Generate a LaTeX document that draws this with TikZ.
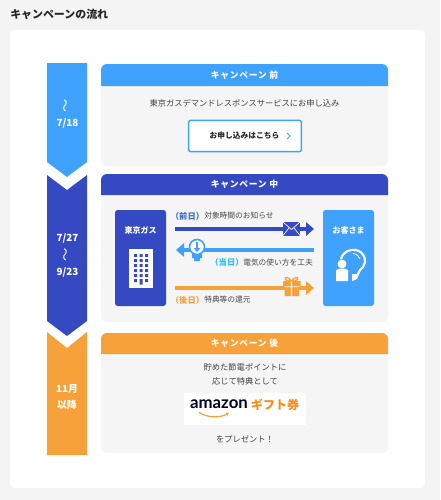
\documentclass[tikz,border=0pt]{standalone}
\usepackage{fontspec}
\usepackage{xcolor}
\setmainfont{Noto Sans CJK JP}
\newfontfamily\wide[LetterSpace=8]{Noto Sans CJK JP}
\newfontfamily\logofont{Lato}
\definecolor{sky}{HTML}{3FA2FF}
\definecolor{navy}{HTML}{354AC2}
\definecolor{amber}{HTML}{F6A13A}
\definecolor{panel}{HTML}{F5F5F5}
\definecolor{page}{HTML}{F4F4F4}
\usetikzlibrary{arrows.meta}

\begin{document}
\begin{tikzpicture}[
    x=0.75pt, y=-0.75pt,
    txt/.style={inner sep=0pt, text=black!75, font=\fontsize{6.2}{7}\selectfont},
    small/.style={inner sep=0pt, text=black!72, font=\fontsize{5.8}{7}\selectfont},
    % ── stage headings and dates ──
    headtxt/.style={inner sep=0pt, text=white, font=\fontsize{6.6}{8}\selectfont\bfseries\wide},
    datetxt/.style={inner sep=0pt, text=white, font=\fontsize{7.4}{9}\selectfont\bfseries},
    wavetxt/.style={inner sep=0pt, text=white, rotate=90, font=\fontsize{10}{11}\selectfont},
    boxtxt/.style={inner sep=0pt, text=white, font=\fontsize{6}{7}\selectfont\bfseries},
    daytxt/.style={inner sep=0pt, font=\fontsize{6.2}{8}\selectfont\bfseries},
    actor/.style={minimum width=38.25pt, minimum height=72pt, rounded corners=2pt, inner sep=0pt},
    flow/.style={line width=3pt, -{Triangle[length=6pt, width=10pt]}},
]

\fill[page] (0,0) rectangle (440,500);
\fill[white, rounded corners=3pt] (10,30) rectangle (425,488);
\node[inner sep=0pt, anchor=west, text=black!85, font=\fontsize{8.2}{10}\selectfont\bfseries] (title) at (10,14.5) {キャンペーンの流れ};

% ══════════════════════════════════════
% LEFT: date chevrons
% ══════════════════════════════════════
\fill[amber] (47,332) -- (67,348) -- (87,332) -- (87,455) -- (47,455) -- cycle;
\fill[navy] (47,175) -- (67,190) -- (87,175) -- (87,321) -- (67,336) -- (47,321) -- cycle;
\fill[sky] (47,63) -- (87,63) -- (87,162) -- (67,177) -- (47,162) -- cycle;

\node[wavetxt] (wavea) at (67,106) {〜};
\node[datetxt] (datea) at (67.5,123) {7/18};
\node[datetxt] (dateb) at (67.5,238) {7/27};
\node[wavetxt] (waveb) at (67,255) {〜};
\node[datetxt] (datec) at (67.5,272.5) {9/23};
\node[datetxt] (dated) at (67,389) {11月};
\node[datetxt] (datee) at (67,405) {以降};

% ══════════════════════════════════════
% Card 1: before
% ══════════════════════════════════════
\fill[panel, rounded corners=4.5pt] (101,64) rectangle (388,166);
\fill[sky] (101,86) {[rounded corners=4.5pt] -- (101,64) -- (388,64)} -- (388,86) -- cycle;
\node[headtxt] (heada) at (244.5,75) {キャンペーン 前};
\node[txt] (apply) at (244.5,103) {東京ガスデマンドレスポンスサービスにお申し込み};
\node[draw=sky, fill=white, line width=1.1pt, rounded corners=1.5pt, minimum width=84.5pt, minimum height=23.5pt, inner sep=0pt] (button) at (245,136) {};
\node[small, text=black!85, font=\fontsize{5.8}{7}\selectfont\bfseries] (buttontxt) at (244.5,136) {お申し込みはこちら};
\coordinate (chev) at (288.5,136);
\draw[sky, line width=0.7pt] ([shift={(-1.5,-3)}]chev) -- ([shift={(1.5,0)}]chev) -- ([shift={(-1.5,3)}]chev);

% ══════════════════════════════════════
% Card 2: during
% ══════════════════════════════════════
\fill[panel, rounded corners=4.5pt] (101,174) rectangle (388,322);
\fill[navy] (101,195) {[rounded corners=4.5pt] -- (101,174) -- (388,174)} -- (388,195) -- cycle;
\node[headtxt] (headb) at (244.5,184.5) {キャンペーン 中};

\node[actor, fill=navy] (gas) at (140.5,258) {};
\node[actor, fill=sky] (cust) at (348.5,258) {};
\node[boxtxt] (gastxt) at (140.5,230.5) {東京ガス};
\node[boxtxt] (custtxt) at (348.5,230.5) {お客さま};

% Building
\fill[white] (129,249) rectangle (153,288);
\fill[navy] (134,254) rectangle ++(3,3) (139.5,254) rectangle ++(3,3) (145,254) rectangle ++(3,3);
\fill[navy] (134,259) rectangle ++(3,3) (139.5,259) rectangle ++(3,3) (145,259) rectangle ++(3,3);
\fill[navy] (134,264) rectangle ++(3,3) (139.5,264) rectangle ++(3,3) (145,264) rectangle ++(3,3);
\fill[navy] (134,269) rectangle ++(3,3) (139.5,269) rectangle ++(3,3) (145,269) rectangle ++(3,3);
\fill[navy] (134,274) rectangle ++(3,3) (139.5,274) rectangle ++(3,3) (145,274) rectangle ++(3,3);
\fill[navy] (134,279) rectangle ++(3,3) (139.5,279) rectangle ++(3,5.5) (145,279) rectangle ++(3,3);

% Customer
\fill[white] (342,264) circle (4.5);
\fill[white] (336,270) -- (340,268.5) -- (344,268.5) -- (348,270) -- (348,281) -- (336,281) -- cycle;
\draw[white, line width=1.6pt] (341,259) .. controls (343,251) and (351,249) .. (356,250)
    .. controls (365,252) and (367,262) .. (363,267) .. controls (361,270) and (358,271) .. (358,274);
\draw[white, line width=0.6pt] (353,253.5) .. controls (357,254) and (359,256) .. (360,259);
\fill[white] (352,274) -- (359,274) -- (357,279) -- (352,281) -- cycle;

% Day before
\coordinate (fromgas) at (175,229);
\coordinate (tocust) at (314,229);
\draw[flow, navy] (fromgas) -- (tocust);
\fill[navy] (283,222) rectangle (300,235.5);
\draw[white, line width=0.5pt] (283,222) -- (291.5,229.5) -- (300,222) (283,235.5) -- (289,228) (300,235.5) -- (294,228);
\node[daytxt, text=navy!60!sky] (daya) at (187.5,216) {（前日）};
\node[small, anchor=west] (texta) at (204,216) {対象時間のお知らせ};

% Same day
\coordinate (fromcust) at (314,250);
\coordinate (togas) at (176,250);
\draw[flow, sky] (fromcust) -- (togas);
\fill[sky] (192,253) rectangle (202,258) (194,258) rectangle (200,261);
\fill[white, draw=sky, line width=1.2pt] (197,247) circle (7.5);
\draw[sky, line width=0.9pt, -{Triangle[length=3pt, width=5pt]}] (197,241.5) -- (197,252);
\node[daytxt, text=sky!70!cyan] (dayb) at (227,262.5) {（当日）};
\node[small, anchor=west] (textb) at (243,262.5) {電気の使い方を工夫};

% Day after
\coordinate (fromgasb) at (175,288);
\coordinate (tocustb) at (314,288);
\draw[flow, amber] (fromgasb) -- (tocustb);
\draw[amber, line width=1pt] (291.5,281) .. controls (288,276) and (284,277) .. (285.5,279.5) .. controls (286,281) and (289,281) .. (291.5,281)
    .. controls (295,276) and (299,277) .. (297.5,279.5) .. controls (297,281) and (294,281) .. (291.5,281);
\fill[amber] (283,281) rectangle (300.5,286.5) (284.5,287) rectangle (299,296);
\fill[white] (290.8,281) rectangle (292.2,296) (284.5,286.3) rectangle (299,287);
\node[daytxt, text=amber] (dayc) at (187.5,300) {（後日）};
\node[small, anchor=west] (textc) at (204,300) {特典等の還元};

% ══════════════════════════════════════
% Card 3: after
% ══════════════════════════════════════
\fill[panel, rounded corners=4.5pt] (101,333) rectangle (388,453);
\fill[amber] (101,354) {[rounded corners=4.5pt] -- (101,333) -- (388,333)} -- (388,354) -- cycle;
\node[headtxt] (headc) at (244.5,343.5) {キャンペーン 後};
\node[txt] (linea) at (245,367) {貯めた節電ポイントに};
\node[txt] (lineb) at (245,381.5) {応じて特典として};
\fill[white] (184,393) rectangle (306,425);
\node[inner sep=0pt, text=black!85!blue, font=\fontsize{12.6}{14}\selectfont\bfseries\logofont] (amazon) at (219,404) {amazon};
\node[inner sep=0pt, text=orange!60!amber, font=\fontsize{9}{10}\selectfont\bfseries] (gift) at (275,404.5) {ギフト券};
\draw[amber, line width=0.9pt, -{Stealth[length=2.5pt, width=3pt]}] (199,412.5) .. controls (208,418) and (220,418) .. (229,413);
\node[txt] (present) at (245,439) {をプレゼント！};

\end{tikzpicture}
\end{document}
